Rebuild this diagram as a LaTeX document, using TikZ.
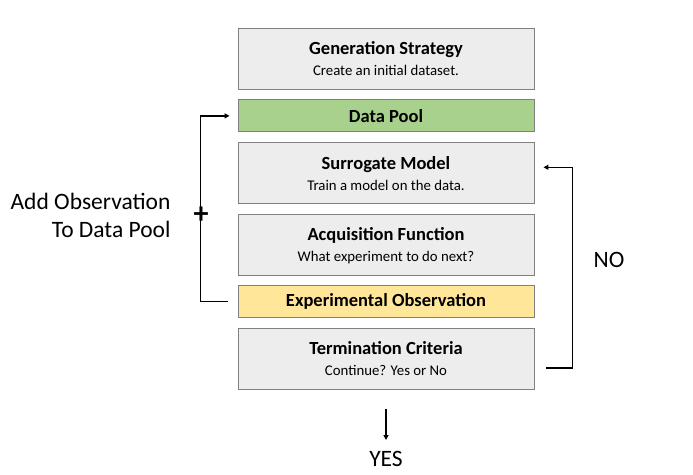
\documentclass[tikz,border=0pt]{standalone}
\usepackage{fontspec}
\setmainfont{Carlito}
\usetikzlibrary{positioning,arrows.meta}
\definecolor{boxgray}{HTML}{EDEDED}
\definecolor{boxline}{HTML}{808080}
\definecolor{poolgreen}{HTML}{A9D18E}
\definecolor{obsyellow}{HTML}{FFE699}
\tikzset{
  stage/.style={draw=boxline, line width=0.9pt, fill=boxgray,
    minimum width=296pt, minimum height=61pt, inner sep=0pt,
    align=center, font=\fontsize{18.5}{22}\selectfont},
  band/.style={stage, minimum height=32pt},
  flow/.style={line width=1.6pt, -{Triangle[length=5pt,width=5pt]}},
  side/.style={font=\fontsize{23.5}{28}\selectfont}
}
\newcommand{\sub}[1]{\\[-1pt]{\fontsize{14.8}{16}\selectfont #1}}
\begin{document}
\begin{tikzpicture}[x=1pt, y=-1pt, node distance=10pt]
  \useasboundingbox (0,0) rectangle (693,474);
  % stages of the loop
  \node [stage] (gen) at (386, 58.5) {\textbf{Generation Strategy}\sub{Create an initial dataset.}};
  \node [band, fill=poolgreen, below=10pt of gen] (pool) {\textbf{Data Pool}};
  \node [stage, below=10pt of pool] (surr) {\textbf{Surrogate Model}\sub{Train a model on the data.}};
  \node [stage, below=10pt of surr] (acq) {\textbf{Acquisition Function}\sub{What experiment to do next?}};
  \node [band, fill=obsyellow, below=9pt of acq] (obs) {\textbf{Experimental Observation}};
  \node [stage, below=10pt of obs] (term) {\textbf{Termination Criteria}\sub{Continue? Yes or No}};
  % add observation back to the pool
  \coordinate (obsl) at ([xshift=-10pt]obs.west);
  \coordinate (pooll) at ([xshift=-8pt]pool.west);
  \draw [flow] (obsl) -- ++(-27,0) |- (pooll);
  \node [font=\fontsize{30}{30}\selectfont\bfseries] (plus) at (201, 215) {+};
  \node [side, align=right, anchor=east] (addtxt) at (174, 215) {Add Observation\\To Data Pool};
  % not finished: back to the surrogate
  \coordinate (terml) at ([xshift=12pt, yshift=-9pt]term.east);
  \coordinate (surrr) at ([xshift=9pt, yshift=6pt]surr.east);
  \draw [flow] (terml) -| ++(26,0) |- (surrr);
  \node [side] (no) at (609, 260) {NO};
  % finished
  \coordinate (yestop) at ([yshift=-19pt]term.south);
  \node [side] (yes) at (386, 459) {YES};
  \draw [flow] (yestop) -- (386, 440);
\end{tikzpicture}
\end{document}
